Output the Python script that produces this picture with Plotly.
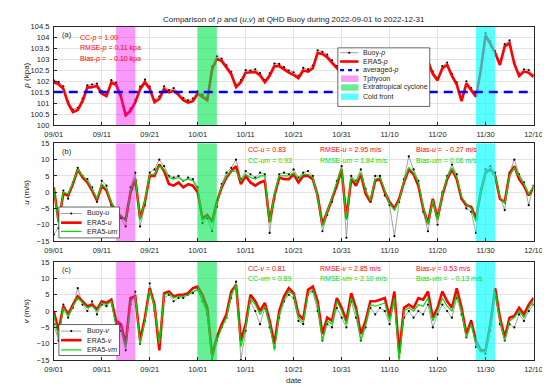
import pandas as pd
import plotly.graph_objects as go

W, H = 550, 386
FONT = "Liberation Sans, Arial, Helvetica, sans-serif"
AX = "#262626"

start_date = "2022-09-01"
end_date = "2022-12-10"

# ---------------- data (daily) ----------------
p_buoy = [102.05, 101.98, 101.78, 101.08, 100.72, 100.80, 101.22, 101.82, 101.86, 101.90,
          101.56, 101.42, 102.06, 101.95, 101.40, 100.55, 100.76, 101.15, 101.76, 102.08,
          101.76, 101.15, 101.31, 101.78, 101.60, 101.70, 101.49, 101.25, 101.14, 101.22,
          101.55, 101.40, 101.25, 102.68, 103.15, 103.04, 102.74, 102.44, 101.85, 102.06,
          102.52, 102.50, 102.55, 102.38, 102.06, 102.37, 102.82, 102.80, 102.66, 102.50,
          102.42, 102.25, 102.62, 102.55, 102.72, 103.42, 103.35, 103.22, 102.96, 102.70,
          102.52, 102.20, 102.01, 102.10, 102.41, 102.60, 102.72, 102.50, 102.21, 101.90,
          101.81, 102.00, 102.31, 102.50, 102.41, 102.20, 102.51, 102.80, 103.01, 102.45,
          102.16, 102.70, 102.86, 102.35, 101.96, 101.20, 102.01, 101.70, 101.41, 102.61,
          104.20, 103.82, 103.40, 102.86, 103.70, 103.87, 102.90, 102.36, 102.55, 102.52,
          102.30]
p_era5 = [101.95, 101.88, 101.66, 101.00, 100.60, 100.70, 101.10, 101.72, 101.74, 101.80,
          101.45, 101.33, 101.95, 101.85, 101.30, 100.45, 100.65, 101.05, 101.65, 101.96,
          101.66, 101.05, 101.20, 101.66, 101.50, 101.58, 101.39, 101.14, 101.04, 101.10,
          101.44, 101.30, 101.14, 102.55, 103.03, 102.93, 102.63, 102.33, 101.74, 101.96,
          102.40, 102.40, 102.43, 102.28, 101.96, 102.26, 102.70, 102.70, 102.55, 102.40,
          102.30, 102.15, 102.50, 102.45, 102.60, 103.30, 103.25, 103.10, 102.85, 102.60,
          102.40, 102.10, 101.90, 102.00, 102.30, 102.50, 102.60, 102.40, 102.10, 101.80,
          101.70, 101.90, 102.20, 102.40, 102.30, 102.10, 102.40, 102.70, 102.90, 102.35,
          102.05, 102.60, 102.75, 102.25, 101.85, 101.10, 101.90, 101.60, 101.30, 102.50,
          104.10, 103.70, 103.30, 102.75, 103.60, 103.75, 102.80, 102.25, 102.45, 102.40,
          102.20]
p_avg = 101.52

u_buoy = [-13, -11, 0.5, -2, 3, 7.5, 5, 4, 1.5, -3,
          3.5, 2, -4, -7, -8, -10.5, 1.5, 6, -10.5, -4,
          6, 7, 10, 8, 5, 4.5, 5, 3.5, 4.5, 4,
          1.5, -9.5, -8, -12, -4.5, 2.5, 6, 7.5, 10, 4,
          6.5, 5.5, 4.5, 6, 5.5, -12.5, -2, 5.5, 6, 5.5,
          7, 4.5, 6, 6.5, 5, -2, -12, -7, -3, 3.5,
          8, -14, 5, 3.5, 7, 1, -3, 5, 5, -1,
          -4, -13.5, -3, 4, 11, 7, 3.5, -6, -12, -3,
          -10, 0, 5, 8.5, 5.5, -2, -5, -6, -12.5, 1,
          7, 8, 6, -1.5, -5.5, 6, 10, 5.5, 3, -4,
          2]
u_era5 = [1.5, -9, -0.5, -1, 2.5, 7, 4.5, 3, 0.5, -2.5,
          2, 0.5, -3.5, -6, -7.5, -8.5, 0, 4, -8, -3,
          5, 5, 8.5, 6.5, 2.5, 2, 3, 1.5, 2.5, 2,
          0, -8, -7, -9, -3, 1.5, 4.5, 6.5, 8, 2.5,
          5, 3, 2, 3, 3.5, -9, -1, 4.5, 4, 4,
          5.5, 3, 5, 5, 4, -1, -10, -6, -2.5, 2,
          7, -8, 4, 2, 5.5, -0.5, -3, 3.5, 4, 0,
          -3, -5, -2, 3, 7, 5.5, 2, -5, -9.5, -2,
          -8, -1, 4, 7, 4, -2, -4, -4.5, -8, 0,
          6, 7, 5, -2, -3, 5.5, 8, 4, 2, -1,
          1.5]
u_era5m = [1, -9.5, 0, -0.5, 3, 7, 5, 3.5, 1, -2,
           2.5, 1, -3, -6.5, -7, -9, 0.5, 4.5, -8.5, -2.5,
           5.5, 5.5, 8, 7, 4.5, 4, 4.5, 3.5, 4, 3.5,
           1, -8.5, -7.5, -9.5, -3.5, 2, 5, 6.5, 6.5, 3.5,
           5.5, 4.5, 4, 5, 5, -9.5, -0.5, 5, 5, 5,
           6, 4, 5.5, 5.5, 4.5, -1.5, -10.5, -6, -2, 3,
           7.5, -8.5, 4.5, 3, 6, 0.5, -2.5, 4, 4.5, 0.5,
           -3.5, -5.5, -2.5, 3.5, 7.5, 6, 3, -4.5, -10, -2.5,
           -8.5, -0.5, 4.5, 7.5, 4.5, -1.5, -3.5, -5, -9, 0.5,
           6, 6.5, 5, -1.5, -3.5, 5, 7.5, 5, 2.5, -0.5,
           1.5]

v_buoy = [-4, -9, 2, -2, 1, 7, 2, 0, 3, -1,
          2, 1.5, 3, -4, -6, -12, 2, 6, -10, -3,
          8.5, 0, -9, 4, 5, 3, 4, 4, 5, 5.5,
          7, 3, -1, -15, -9, -5, -2, 4, 9, -15,
          -6, 3, 0, -4, 1, -5, -11, -2, 3, 5,
          4, -3, -4, 5, 6, 0, -9, -4, -5, 1,
          -2, -5, 3, -2, -9, -5, 1, -1, 1, 0,
          -4, 3, -14, -2, 0, -2, 0, -1, 2, -5,
          -1, 2, 0, -2, 4, -1, -8, -3, -11, -12,
          -13, -6, 5, -4, -9, -4, -5, -1, -3, 0,
          2]
v_era5 = [0, -6, 1.5, -1, 2, 4.5, 3, 1.5, 2, 0.5,
          3, 2.5, 3.5, -3, -4, -10, 4, 4.5, -9, -2,
          7, 2, -12, 5.5, 6, 4.5, 5, 5, 5.5, 7,
          7.5, 5, 1, -13.5, -8, -4, -1, 6, 8, -9,
          -4, 5, 3, 0, 2.5, -3, -10, 0, 4.5, 7,
          5.5, -1, -2.5, 6.5, 7.5, 3, -7, -2, -3, 4,
          1, -3, 5.5, 1, -7, -3, 3, 3, 3.5, 4,
          -2, 6, -13, 1, 2, 1, 4, 3.5, 6, -2,
          1, 6, 3, 1, 7, 1, -7, -3, -9, -12,
          -12, -4, 7, -2, -8, -2, -1.5, 1, -1, 2,
          4]
v_era5m = [-1, -8, 1, -1.5, 1.5, 4, 2.5, 1, 1.5, 0,
           2.5, 2, 3, -5, -5, -11, 3, 4.5, -10, -3,
           6.5, 1.5, -10, 5, 5.5, 4, 4.5, 4.5, 5, 6,
           6.5, 3.5, 0, -15, -9, -5, -2, 5, 8, -11,
           -5, 4, 2, -1, 1.5, -4, -12, -1, 3.5, 6,
           5, -2, -3.5, 5.5, 6.5, 2, -9, -3, -4, 3,
           0, -4, 4, 0, -9, -4, 2, 1.5, 2, 2.5,
           -3, 4, -15, 0, 1, 0, 2, 1.5, 4, -3,
           0, 4, 1.5, 0, 5, 0, -8, -4, -10, -12.5,
           -12.5, -5, 6, -3, -9, -3, -2, 0, -2, 1,
           3]

event_names = ["Tphyoon", "Extratropical cyclone", "Cold front"]
event_start = ["2022-09-14", "2022-10-01", "2022-11-28"]
event_end = ["2022-09-18", "2022-10-05", "2022-12-02"]
event_colors = ["rgba(240,0,240,0.40)", "rgba(0,230,80,0.60)", "rgba(0,255,255,0.65)"]

p_range = [100, 104.5]
uv_range = [-15, 15]

stats_p = ["CC-<i>p</i> = 1.00", "RMSE-<i>p</i> = 0.11 kpa", "Bias-<i>p</i> =  - 0.10 kpa"]
stats_u = [["CC-<i>u</i> = 0.83", "RMSE-<i>u</i> = 2.95 m/s", "Bias-<i>u</i> =  - 0.27 m/s"],
           ["CC-<i>um</i> = 0.93", "RMSE-<i>um</i> = 1.84 m/s", "Bias-<i>um</i> = 0.06 m/s"]]
stats_v = [["CC-<i>v</i> = 0.81", "RMSE-<i>v</i> = 2.85 m/s", "Bias-<i>v</i> = 0.53 m/s"],
           ["CC-<i>vm</i> = 0.89", "RMSE-<i>vm</i> = 2.10 m/s", "Bias-<i>vm</i> =  - 0.13 m/s"]]

RED = "#FF0000"
GREEN = "#00DD00"
BLUE = "#0000FF"


def dates(arr):
    return pd.date_range(start_date, periods=len(arr), freq="D")


def day(d):
    return pd.Timestamp(start_date) + pd.Timedelta(days=d)


def xp(px):
    return px / W


def yp(py):
    return 1 - py / H


fig = go.Figure()


def add_buoy(y, xa, ya):
    fig.add_trace(go.Scatter(x=dates(y), y=y, xaxis=xa, yaxis=ya, mode="lines+markers",
                             line=dict(color="#8C8C8C", width=0.8),
                             marker=dict(color="black", size=2.2), showlegend=False))


def add_line(y, xa, ya, color, width):
    fig.add_trace(go.Scatter(x=dates(y), y=y, xaxis=xa, yaxis=ya, mode="lines",
                             line=dict(color=color, width=width), showlegend=False))


def add_events(xa, ya, rng):
    for s, e, c in zip(event_start, event_end, event_colors):
        fig.add_trace(go.Scatter(x=[s, s, e, e, s], y=[rng[0], rng[1], rng[1], rng[0], rng[0]],
                                 xaxis=xa, yaxis=ya, mode="none", fill="toself",
                                 fillcolor=c, showlegend=False, hoverinfo="skip"))


# (a)
add_buoy(p_buoy, "x", "y")
add_line(p_era5, "x", "y", RED, 2.6)
add_events("x", "y", p_range)
fig.add_trace(go.Scatter(x=[start_date, end_date], y=[p_avg, p_avg], xaxis="x", yaxis="y",
                         mode="lines", line=dict(color=BLUE, width=2.4, dash="9px,6px"),
                         showlegend=False))
# (b)
add_buoy(u_buoy, "x2", "y2")
add_line(u_era5, "x2", "y2", RED, 2.6)
add_line(u_era5m, "x2", "y2", GREEN, 1.2)
add_events("x2", "y2", uv_range)
# (c)
add_buoy(v_buoy, "x3", "y3")
add_line(v_era5, "x3", "y3", RED, 2.6)
add_line(v_era5m, "x3", "y3", GREEN, 1.2)
add_events("x3", "y3", uv_range)

# ---------- axes ----------
xdom = [xp(38), xp(534)]
ydoms = {"": [yp(116), yp(15)], "2": [yp(234.5), yp(134.5)], "3": [yp(356.5), yp(256)]}
common_x = dict(type="date", range=[start_date, end_date], tick0=start_date,
                dtick=10 * 86400000, tickformat="%m/%d", showgrid=True, gridcolor="#E3E3E3",
                gridwidth=0.8, showline=True, linecolor=AX, linewidth=0.8, mirror=True,
                ticks="inside", ticklen=3, tickcolor=AX, zeroline=False, ticklabelstandoff=2,
                tickfont=dict(family=FONT, size=7.5, color=AX), domain=xdom)
common_y = dict(showgrid=True, gridcolor="#E3E3E3", gridwidth=0.8, showline=True,
                linecolor=AX, linewidth=0.8, mirror=True, ticks="inside", ticklen=3,
                tickcolor=AX, zeroline=False, ticklabelstandoff=2,
                tickfont=dict(family=FONT, size=7.5, color=AX))
for k in ["", "2", "3"]:
    fig.layout["xaxis" + k] = dict(common_x, anchor="y" + k)
    ydict = dict(common_y, anchor="x" + k, domain=ydoms[k])
    if k == "":
        ydict.update(range=p_range, dtick=0.5)
    else:
        ydict.update(range=uv_range, dtick=5)
    fig.layout["yaxis" + k] = ydict

ann = []
shapes = []


def text(x, y, s, size=7, color=AX, xref="paper", yref="paper", xanchor="left", angle=0):
    ann.append(dict(x=x, y=y, xref=xref, yref=yref, text=s, showarrow=False,
                    xanchor=xanchor, yanchor="middle", textangle=angle,
                    font=dict(family=FONT, size=size, color=color)))


# title and axis titles
text(xp(286), yp(8), "Comparison of <i>p</i> and (<i>u</i>,<i>v</i>) at QHD Buoy during 2022-09-01 to 2022-12-31",
     size=8, xanchor="center")
text(xp(10), yp(65.5), "<i>p</i> (kpa)", size=8, xanchor="center", angle=-90)
text(xp(10), yp(184.5), "<i>u</i> (m/s)", size=8, xanchor="center", angle=-90)
text(xp(10), yp(306), "<i>v</i> (m/s)", size=8, xanchor="center", angle=-90)
text(xp(286), yp(377.5), "date", size=8, xanchor="center")

# panel letters
text(day(1.3), 104.16, "(a)", size=7.5, xref="x", yref="y")
text(day(1.2), 12.6, "(b)", size=7.5, xref="x2", yref="y2")
text(day(1.2), 12.6, "(c)", size=7.5, xref="x3", yref="y3")

# statistics
for s, yv in zip(stats_p, [104.0, 103.52, 103.03]):
    text(day(5.1), yv, s, size=7, color=RED, xref="x", yref="y")
xs = [40.1, 55.05, 75.15]
for row, yv, col in zip(stats_u, [13.0, 9.8], [RED, GREEN]):
    for s, d in zip(row, xs):
        text(day(d), yv, s, size=7, color=col, xref="x2", yref="y2")
for row, yv, col in zip(stats_v, [13.1, 10.1], [RED, GREEN]):
    for s, d in zip(row, xs):
        text(day(d), yv, s, size=7, color=col, xref="x3", yref="y3")


# ---------- custom legends (pixel layout) ----------
def rect(x0, y0, x1, y1, fill, line_color=None, lw=0):
    shapes.append(dict(type="rect", xref="paper", yref="paper", x0=xp(x0), x1=xp(x1),
                       y0=yp(y1), y1=yp(y0), fillcolor=fill, layer="above",
                       line=dict(color=line_color or "rgba(0,0,0,0)", width=lw)))


def seg(x0, x1, y, color, width, dash="solid"):
    shapes.append(dict(type="line", xref="paper", yref="paper", x0=xp(x0), x1=xp(x1),
                       y0=yp(y), y1=yp(y), layer="above", line=dict(color=color, width=width, dash=dash)))


def dot(x, y, r=1.1):
    shapes.append(dict(type="circle", xref="paper", yref="paper", x0=xp(x - r), x1=xp(x + r),
                       y0=yp(y + r), y1=yp(y - r), layer="above", fillcolor="black",
                       line=dict(width=0)))


# legend (a)
lx0, lx1 = 331.7, 426.7
rect(lx0, 36.7, lx1, 96.7, "white", AX, 0.7)
rows_a = [41.7, 50.7, 59.5, 68.3, 77.3, 86.7]
sx0, sx1, tx = 334, 353, 355.5
seg(sx0, sx1, rows_a[0], "#8C8C8C", 0.8)
dot((sx0 + sx1) / 2, rows_a[0])
seg(sx0, sx1, rows_a[1], RED, 2.6)
seg(sx0, sx1, rows_a[2], BLUE, 2.4, "4px,4px")
for r, c in zip(rows_a[3:], event_colors):
    rect(sx0 + 1, r - 3.3, sx1, r + 3.3, c)
labels_a = ["Buoy-<i>p</i>", "ERA5-<i>p</i>", "averaged-<i>p</i>"] + event_names
for r, s in zip(rows_a, labels_a):
    text(xp(tx), yp(r), s, size=7)


# legends (b), (c)
def small_legend(top, bottom, rows, labels):
    rect(43.3, top, 106, bottom, "white", AX, 0.7)
    a0, a1 = 45.5, 66.7
    seg(a0, a1, rows[0], "#8C8C8C", 0.8)
    dot((a0 + a1) / 2, rows[0])
    seg(a0, a1, rows[1], RED, 2.6)
    seg(a0, a1, rows[2], GREEN, 1.2)
    for r, s in zip(rows, labels):
        text(xp(70), yp(r), s, size=7)


small_legend(199.7, 231.3, [206.3, 215.7, 224.7], ["Buoy-<i>u</i>", "ERA5-<i>u</i>", "ERA5-<i>um</i>"])
small_legend(320, 351.7, [326.7, 336, 346], ["Buoy-<i>v</i>", "ERA5-<i>v</i>", "ERA5-<i>vm</i>"])

fig.update_layout(width=W, height=H, margin=dict(l=0, r=0, t=0, b=0),
                  paper_bgcolor="white", plot_bgcolor="white", showlegend=False,
                  annotations=ann, shapes=shapes, font=dict(family=FONT, size=7.5, color=AX))

fig.write_html("out.html")
